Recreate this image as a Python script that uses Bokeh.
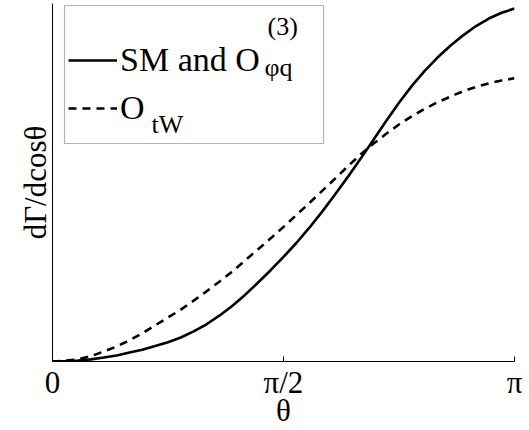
import numpy as np
from bokeh.plotting import figure
from bokeh.models import FixedTicker, Legend, LegendItem, Label, BoxAnnotation, Range1d
from bokeh.embed import file_html
from bokeh.resources import INLINE

# ---- data (every 5 degrees) ----
theta_deg = list(range(0, 181, 5))
sm_values = [0.000, 0.001, 0.003, 0.006, 0.011, 0.017, 0.025, 0.033, 0.043, 0.054,
             0.067, 0.084, 0.104, 0.128, 0.155, 0.186, 0.220, 0.255, 0.292, 0.331,
             0.373, 0.418, 0.466, 0.515, 0.566, 0.619, 0.672, 0.723, 0.770, 0.812,
             0.849, 0.882, 0.911, 0.937, 0.958, 0.974, 0.986]
otw_values = [0.000, 0.002, 0.006, 0.015, 0.028, 0.042, 0.059, 0.079, 0.101, 0.123,
              0.145, 0.170, 0.196, 0.223, 0.251, 0.282, 0.313, 0.344, 0.376, 0.409,
              0.442, 0.476, 0.510, 0.545, 0.578, 0.608, 0.636, 0.662, 0.685, 0.706,
              0.724, 0.740, 0.755, 0.767, 0.777, 0.785, 0.791]
x_ticks = [0.0, np.pi / 2, np.pi]
x_tick_labels = ["0", "π/2", "π"]
x_label = "θ"
y_label = "dΓ/dcosθ"
legend_main = ["SM and O", "O"]
legend_sup = "(3)"
legend_sub = ["φq", "tW"]

theta = [np.deg2rad(d) for d in theta_deg]

FONT = "'Liberation Serif', 'Times New Roman', serif"

p = figure(width=529, height=430, output_backend="svg", toolbar_location=None,
           x_range=Range1d(0, np.pi), y_range=Range1d(0, 1.0),
           min_border_left=52, min_border_right=15, min_border_top=3, min_border_bottom=69)
p.outline_line_color = None
p.grid.visible = False
p.background_fill_color = "white"
p.border_fill_color = "white"

r1 = p.line(theta, sm_values, line_color="black", line_width=2.6)
r2 = p.line(theta, otw_values, line_color="black", line_width=2.6, line_dash="8 6")

xa = p.xaxis[0]
xa.ticker = FixedTicker(ticks=x_ticks)
xa.major_label_overrides = {t: l for t, l in zip(x_ticks, x_tick_labels)}
xa.major_label_text_font = FONT
xa.major_label_text_font_size = "31px"
xa.major_label_text_color = "black"
xa.major_tick_in = 5
xa.major_tick_out = 0
xa.minor_tick_line_color = None
xa.major_label_standoff = 3
xa.axis_label = x_label
xa.axis_label_text_font = FONT
xa.axis_label_text_font_size = "31px"
xa.axis_label_text_font_style = "normal"
xa.axis_label_text_color = "black"
xa.axis_label_standoff = -10
xa.axis_line_color = "black"
xa.major_tick_line_color = "black"

ya = p.yaxis[0]
ya.ticker = FixedTicker(ticks=[])
ya.major_tick_in = 0
ya.major_tick_out = 0
ya.minor_tick_line_color = None
ya.major_label_standoff = 0
ya.axis_label = y_label
ya.axis_label_text_font = FONT
ya.axis_label_text_font_size = "31px"
ya.axis_label_text_font_style = "normal"
ya.axis_label_text_color = "black"
ya.axis_label_standoff = 0
ya.axis_line_color = "black"

legend = Legend(items=[LegendItem(label=legend_main[0], renderers=[r1]),
                       LegendItem(label=legend_main[1], renderers=[r2])],
                location=(16, 233), orientation="vertical",
                glyph_width=49, glyph_height=40, label_height=40, label_standoff=3,
                spacing=8, padding=5, margin=0,
                border_line_color=None, background_fill_alpha=0,
                label_text_font=FONT, label_text_font_size="34px", label_text_color="black")
p.add_layout(legend)

box = BoxAnnotation(left=12, right=271, top=356, bottom=218,
                    left_units="screen", right_units="screen", top_units="screen", bottom_units="screen",
                    fill_alpha=0, line_color="black", line_width=1.2)
p.add_layout(box)

p.add_layout(Label(x=215, y=335, x_units="screen", y_units="screen", text=legend_sup,
                   text_font=FONT, text_font_size="26px", text_baseline="middle", text_color="black"))
p.add_layout(Label(x=212, y=294, x_units="screen", y_units="screen", text=legend_sub[0],
                   text_font=FONT, text_font_size="26px", text_baseline="middle", text_color="black"))
p.add_layout(Label(x=99, y=237, x_units="screen", y_units="screen", text=legend_sub[1],
                   text_font=FONT, text_font_size="26px", text_baseline="middle", text_color="black"))

open("out.html", "w").write(file_html(p, INLINE))
